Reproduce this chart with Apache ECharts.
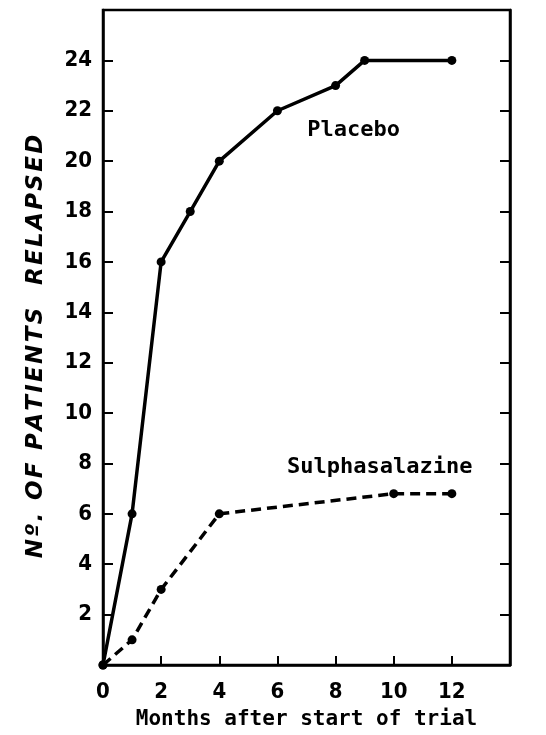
<!DOCTYPE html>
<html><head><meta charset="utf-8">
<script src="https://cdn.jsdelivr.net/npm/echarts@6/dist/echarts.min.js"></script>
<style>html,body{margin:0;padding:0;background:#fff}#c{width:546px;height:735px}</style>
</head><body><div id="c"></div>
<script>
var placeboMonths = [0, 1, 2, 3, 4, 6, 8, 9, 12];
var placeboRelapsed = [0, 6, 16, 18, 20, 22, 23, 24, 24];
var sulphaMonths = [0, 1, 2, 4, 10, 12];
var sulphaRelapsed = [0, 1, 3, 6, 6.8, 6.8];
var xTicks = [0, 2, 4, 6, 8, 10, 12];
var yTicks = [2, 4, 6, 8, 10, 12, 14, 16, 18, 20, 22, 24];
var seriesNames = ['Placebo', 'Sulphasalazine'];
var xTitle = 'Months after start of trial';
var yTitle = 'Nº. OF PATIENTS  RELAPSED';

var font = 'DejaVu Sans Mono';
var tickFont = 'DejaVu Sans Condensed';
function spaced(s) { return s.split('').join('\u200A'); }
function pairs(xs, ys, labelIdx, labelCfg) {
  return xs.map(function (x, i) {
    var d = { value: [x, ys[i]] };
    if (i === labelIdx) d.label = labelCfg;
    return d;
  });
}
var chart = echarts.init(document.getElementById('c'), null, { renderer: 'canvas' });
chart.setOption({
  animation: false,
  backgroundColor: '#fff',
  grid: { left: 103, right: 36, top: 10, bottom: 68, show: true, borderColor: '#000', borderWidth: 2.5, backgroundColor: 'transparent' },
  xAxis: {
    type: 'value', min: 0, max: 14, interval: 2,
    name: xTitle, nameLocation: 'middle', nameGap: 44,
    nameTextStyle: { fontFamily: font, fontSize: 21, color: '#000', fontWeight: 'bold' },
    axisLine: { show: true, lineStyle: { color: '#000', width: 2.5 } },
    axisTick: { show: true, inside: true, length: 9, lineStyle: { color: '#000', width: 2 } },
    axisLabel: { margin: 16, fontFamily: tickFont, fontSize: 22, fontWeight: 'bold', color: '#000',
      formatter: function (v) { return xTicks.indexOf(v) >= 0 ? String(v) : ''; } },
    splitLine: { show: false }
  },
  yAxis: [{
    type: 'value', min: 0, max: 26, interval: 2,
    name: spaced(yTitle), nameLocation: 'middle', nameGap: 55, nameRotate: 90,
    nameTextStyle: { fontFamily: 'DejaVu Sans', fontSize: 23, fontStyle: 'italic', fontWeight: 'bold', color: '#000',
      padding: [0, 18, 0, 0] },
    axisLine: { show: true, lineStyle: { color: '#000', width: 2.5 } },
    axisTick: { show: true, inside: true, length: 10, lineStyle: { color: '#000', width: 2 } },
    axisLabel: { margin: 11, fontFamily: tickFont, fontSize: 22, fontWeight: 'bold', color: '#000',
      formatter: function (v) { return yTicks.indexOf(v) >= 0 ? String(v) : ''; } },
    splitLine: { show: false }
  }, {
    type: 'value', min: 0, max: 26, interval: 2, position: 'right',
    axisLine: { show: true, lineStyle: { color: '#000', width: 2.5 } },
    axisTick: { show: true, inside: true, length: 10, lineStyle: { color: '#000', width: 2 },
      customValues: yTicks },
    axisLabel: { show: false },
    splitLine: { show: false }
  }],
  series: [{
    name: seriesNames[0], type: 'line',
    data: pairs(placeboMonths, placeboRelapsed, 6, {
      show: true, formatter: seriesNames[0], position: 'bottom', offset: [18, 24],
      fontFamily: font, fontSize: 22, fontWeight: 'bold', color: '#000'
    }),
    symbol: 'circle', symbolSize: 9, showAllSymbol: true,
    itemStyle: { color: '#000' },
    lineStyle: { color: '#000', width: 3.5 }
  }, {
    name: seriesNames[1], type: 'line',
    data: pairs(sulphaMonths, sulphaRelapsed, 4, {
      show: true, formatter: seriesNames[1], position: 'top', offset: [-14, -6],
      fontFamily: font, fontSize: 22, fontWeight: 'bold', color: '#000'
    }),
    symbol: 'circle', symbolSize: 9, showAllSymbol: true,
    itemStyle: { color: '#000' },
    lineStyle: { color: '#000', width: 3.5, type: [10, 6] }
  }]
});
</script></body></html>
